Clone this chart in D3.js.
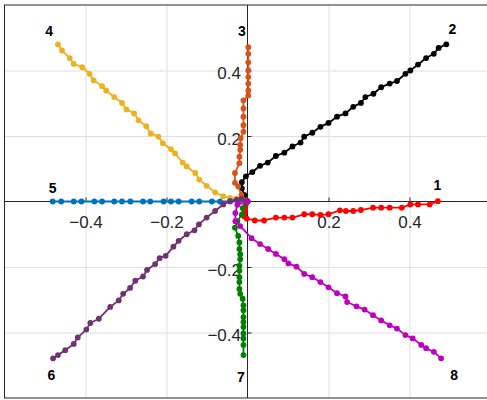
<!DOCTYPE html>
<html>
<head>
<meta charset="utf-8">
<script src="https://cdn.jsdelivr.net/npm/d3@7"></script>
<style>
  html, body { margin: 0; padding: 0; background: #fff; }
  svg { display: block; }
  text { font-family: "Liberation Sans", Arial, Helvetica, sans-serif; }
</style>
</head>
<body>
<svg id="chart" width="487" height="400"></svg>
<script>
// ---------- data ----------
const xTicks = [-0.4, -0.2, 0.2, 0.4];
const yTicks = [-0.4, -0.2, 0.2, 0.4];

const series1 = [[0,0],[-0.005,-0.012],[-0.006,-0.025],[-0.007,-0.035],[-0.008,-0.045],[-0.002,-0.052],[0.018,-0.058],[0.041,-0.058],[0.070,-0.049],[0.091,-0.049],[0.111,-0.049],[0.140,-0.039],[0.160,-0.039],[0.180,-0.041],[0.200,-0.039],[0.228,-0.027],[0.243,-0.029],[0.261,-0.029],[0.280,-0.026],[0.310,-0.019],[0.330,-0.019],[0.351,-0.019],[0.381,-0.019],[0.402,-0.009],[0.421,-0.009],[0.450,-0.009],[0.470,0.001]];
const series2 = [[0,0],[-0.008,0.02],[-0.014,0.04],[-0.014,0.059],[-0.004,0.077],[0.012,0.090],[0.031,0.109],[0.050,0.119],[0.070,0.139],[0.091,0.149],[0.111,0.168],[0.131,0.180],[0.140,0.198],[0.160,0.210],[0.180,0.228],[0.200,0.240],[0.221,0.259],[0.242,0.269],[0.261,0.289],[0.280,0.301],[0.291,0.319],[0.311,0.329],[0.330,0.349],[0.351,0.360],[0.369,0.368],[0.390,0.390],[0.402,0.400],[0.421,0.418],[0.441,0.438],[0.460,0.451],[0.472,0.469],[0.491,0.480]];
const series3 = [[0,0],[-0.015,0.02],[-0.023,0.046],[-0.031,0.057],[-0.031,0.087],[-0.020,0.117],[-0.020,0.137],[-0.018,0.158],[-0.018,0.173],[-0.017,0.193],[-0.010,0.213],[-0.010,0.233],[-0.010,0.259],[-0.010,0.284],[-0.010,0.309],[0.002,0.324],[0.002,0.339],[0.002,0.360],[0.002,0.380],[0.002,0.400],[0.002,0.425],[0.002,0.451],[0.002,0.471]];
const series4 = [[0,0],[-0.027,0.008],[-0.043,0.011],[-0.060,0.016],[-0.080,0.028],[-0.101,0.048],[-0.119,0.067],[-0.129,0.087],[-0.150,0.107],[-0.160,0.119],[-0.179,0.147],[-0.189,0.160],[-0.209,0.178],[-0.220,0.198],[-0.239,0.208],[-0.250,0.230],[-0.269,0.248],[-0.280,0.269],[-0.299,0.281],[-0.310,0.301],[-0.329,0.319],[-0.349,0.339],[-0.359,0.352],[-0.380,0.370],[-0.390,0.390],[-0.408,0.410],[-0.429,0.420],[-0.439,0.438],[-0.458,0.461],[-0.468,0.480]];
const series5 = [[0,0],[-0.023,0],[-0.043,0],[-0.068,0],[-0.088,0],[-0.119,0],[-0.138,0],[-0.170,0],[-0.189,0],[-0.207,0],[-0.240,0],[-0.258,0],[-0.289,0],[-0.310,0],[-0.329,0],[-0.359,0],[-0.378,0],[-0.410,0],[-0.429,0],[-0.460,0],[-0.481,0]];
const series6 = [[0,0],[-0.015,0.008],[-0.027,0.006],[-0.043,0.001],[-0.060,-0.009],[-0.080,-0.029],[-0.101,-0.049],[-0.120,-0.070],[-0.131,-0.088],[-0.150,-0.100],[-0.170,-0.120],[-0.183,-0.138],[-0.202,-0.166],[-0.217,-0.173],[-0.228,-0.191],[-0.248,-0.209],[-0.258,-0.229],[-0.277,-0.242],[-0.290,-0.264],[-0.307,-0.282],[-0.318,-0.302],[-0.339,-0.322],[-0.367,-0.358],[-0.388,-0.371],[-0.398,-0.391],[-0.419,-0.415],[-0.429,-0.435],[-0.450,-0.454],[-0.468,-0.469],[-0.480,-0.479]];
const series7 = [[0,0],[-0.012,-0.02],[-0.014,-0.04],[-0.025,-0.06],[-0.031,-0.080],[-0.023,-0.105],[-0.020,-0.125],[-0.020,-0.145],[-0.018,-0.161],[-0.018,-0.176],[-0.020,-0.196],[-0.020,-0.211],[-0.020,-0.231],[-0.020,-0.246],[-0.020,-0.267],[-0.018,-0.282],[-0.012,-0.297],[-0.010,-0.317],[-0.010,-0.332],[-0.010,-0.353],[-0.010,-0.368],[-0.010,-0.383],[-0.010,-0.403],[-0.010,-0.418],[-0.010,-0.438],[-0.010,-0.469]];
const series8 = [[0,0],[-0.025,-0.010],[-0.030,-0.035],[-0.030,-0.060],[-0.018,-0.075],[0.010,-0.112],[0.031,-0.130],[0.051,-0.145],[0.070,-0.160],[0.091,-0.176],[0.101,-0.189],[0.121,-0.199],[0.140,-0.221],[0.160,-0.231],[0.180,-0.246],[0.200,-0.262],[0.221,-0.280],[0.242,-0.290],[0.246,-0.307],[0.269,-0.320],[0.289,-0.330],[0.310,-0.347],[0.330,-0.363],[0.351,-0.378],[0.369,-0.388],[0.390,-0.408],[0.408,-0.418],[0.429,-0.438],[0.441,-0.448],[0.460,-0.459],[0.478,-0.479]];

const seriesList = [series1, series2, series3, series4, series5, series6, series7, series8];
const seriesNames = ["1", "2", "3", "4", "5", "6", "7", "8"];
const labelX = [0.469, 0.506, -0.014, -0.490, -0.481, -0.484, -0.016, 0.510];
const labelY = [0.050, 0.526, 0.520, 0.520, 0.040, -0.531, -0.536, -0.530];
const colors = ["#FF0000", "#000000", "#D95319", "#EDB120", "#0072BD", "#6E3370", "#008000", "#BF00BF"];

// ---------- chart ----------
const svg = d3.select("#chart");
const x = d3.scaleLinear().domain([-0.6, 0.6]).range([4.5, 490.5]);
const y = d3.scaleLinear().domain([-0.6, 0.6]).range([398, 5]);

// grid
const grid = svg.append("g");
grid.append("g")
  .attr("transform", `translate(0,${y(-0.6)})`)
  .call(d3.axisBottom(x).tickValues(xTicks).tickSize(-(y(-0.6) - y(0.6))).tickFormat(""))
  .call(g => g.select(".domain").remove())
  .call(g => g.selectAll("line").attr("stroke", "#dfdfdf").attr("stroke-width", 1));
grid.append("g")
  .attr("transform", `translate(${x(-0.6)},0)`)
  .call(d3.axisLeft(y).tickValues(yTicks).tickSize(-(x(0.6) - x(-0.6))).tickFormat(""))
  .call(g => g.select(".domain").remove())
  .call(g => g.selectAll("line").attr("stroke", "#dfdfdf").attr("stroke-width", 1));

// box
svg.append("rect")
  .attr("x", x(-0.6)).attr("y", y(0.6))
  .attr("width", x(0.6) - x(-0.6)).attr("height", y(-0.6) - y(0.6))
  .attr("fill", "none").attr("stroke", "#262626").attr("stroke-width", 1);

// axes through origin
const fmt = d3.format(".1f");
const xAxisG = svg.append("g")
  .attr("transform", `translate(0,${y(0)})`)
  .call(d3.axisBottom(x).tickValues(xTicks).tickSizeInner(-4).tickSizeOuter(0).tickPadding(14).tickFormat(fmt));
xAxisG.select(".domain").attr("d", `M${x(-0.6)},0H${x(0.6)}`).attr("stroke", "#262626");
xAxisG.selectAll(".tick line").attr("stroke", "#262626");
xAxisG.selectAll("text").attr("font-size", 17).attr("fill", "#262626")
  .attr("font-family", "'Liberation Sans', Arial, Helvetica, sans-serif");

const yAxisG = svg.append("g")
  .attr("transform", `translate(${x(0)},0)`)
  .call(d3.axisLeft(y).tickValues(yTicks).tickSizeInner(-4).tickSizeOuter(0).tickPadding(6.5).tickFormat(fmt));
yAxisG.select(".domain").attr("d", `M0,${y(-0.6)}V${y(0.6)}`).attr("stroke", "#262626");
yAxisG.selectAll(".tick line").attr("stroke", "#262626");
yAxisG.selectAll("text").attr("font-size", 17).attr("fill", "#262626").attr("dy", "0.48em")
  .attr("font-family", "'Liberation Sans', Arial, Helvetica, sans-serif");

// series
const line = d3.line().x(d => x(d[0])).y(d => y(d[1]));
seriesList.forEach((s, i) => {
  const g = svg.append("g");
  g.append("path").datum(s).attr("d", line)
    .attr("fill", "none").attr("stroke", colors[i]).attr("stroke-width", 1.8)
    .attr("stroke-linejoin", "round");
  g.selectAll("circle").data(s).join("circle")
    .attr("cx", d => x(d[0])).attr("cy", d => y(d[1])).attr("r", 2.9)
    .attr("fill", colors[i]);
});

// labels
svg.append("g").selectAll("text").data(seriesNames).join("text")
  .attr("x", (d, i) => x(labelX[i])).attr("y", (d, i) => y(labelY[i]))
  .attr("dy", "0.36em").attr("text-anchor", "middle")
  .attr("font-size", 14).attr("font-weight", "bold").attr("fill", "#000")
  .text(d => d);
</script>
</body>
</html>
